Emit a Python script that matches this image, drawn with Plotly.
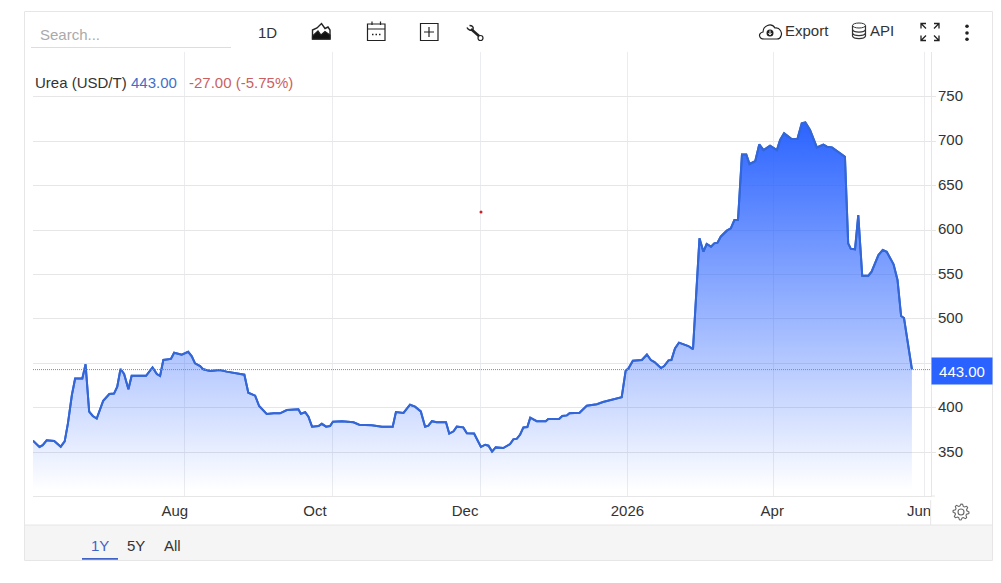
import math
import re

import plotly.graph_objects as go

# trading sessions since the start of the 1Y window, and the price at each one
session = [0, 1.8, 2.7, 3.8, 5.9, 7.7, 8.8, 9.7, 10.8, 11.7, 13.7, 14.6, 15.6, 16.6, 17.7, 19.5, 21.2, 22.5, 23.4, 24.3,
           25.3, 26.5, 27.4, 31.4, 33.2, 34.4, 35.3, 36.2, 38.3, 39.2, 41.3, 43.1, 44.1, 45, 46.4, 47.3, 49.2, 51, 51.9, 53.8,
           56.6, 58.7, 59.8, 61.7, 62.8, 64.9, 66.8, 68.6, 70.5, 73.7, 74.4, 75.6, 76.5, 77.5, 79.3, 80.2, 81.4, 82.5, 83.3, 85.8,
           89, 90.6, 94.1, 96.9, 99.9, 100.8, 102.9, 104.7, 106.1, 107.7, 108.9, 109.8, 110.8, 112.1, 114.7, 115.6, 116.8, 117.7, 119.5, 120.5,
           122.5, 124.4, 125.6, 126.5, 127.5, 128.5, 130.6, 132.5, 133.4, 134.4, 135.3, 136.2, 137.3, 138.1, 139.9, 142.4, 143.1, 146.1, 147, 148.3,
           149, 151.8, 153.8, 156.6, 158.3, 160.8, 163.5, 164.6, 165.4, 166.6, 169.1, 170.5, 171.6, 172.6, 174.4, 175.3, 176.5, 177.3, 178.3, 179.4,
           182, 183.3, 185.1, 186.2, 187.1, 188.3, 189.2, 190.1, 191, 192.7, 193.8, 194.8, 195.8, 196.9, 198.1, 199, 200.6, 201.7, 202.9, 204.7,
           206.6, 207.5, 208.6, 210.7, 212.3, 213.5, 214.5, 215.8, 217.7, 219.5, 220.5, 221.9, 223.3, 225.5, 226.4, 227.1, 228.3, 229.2, 230.3, 232,
           232.9, 234.8, 236, 237.1, 239, 240.1, 241.1, 241.9, 244.1]
price = [363, 356, 358, 363.5, 362.7, 356.3, 362.3, 382.5, 414.4, 433, 433, 449, 395.7, 390.8, 388, 408, 415.5, 416, 423.8, 443.7,
         438, 420.8, 436, 436, 445.5, 438, 435.8, 453.8, 455, 462, 459.8, 463, 458, 450, 447, 443.3, 441.4, 441.8, 442.5, 440.7,
         438.8, 437.3, 417, 413.7, 402, 393, 393.8, 393.8, 397.5, 398.3, 393.4, 395, 390, 378.8, 379.5, 382, 378.8, 379.5, 384.4, 384.8,
         383.7, 381, 380.3, 378.8, 378.8, 395.3, 394.2, 403.5, 401.3, 396, 378.8, 380, 385, 383.7, 383.7, 371, 373.6, 378.8, 378, 371.3,
         371, 356, 358.5, 357.4, 350.7, 355.5, 354.8, 359.3, 364.5, 365.3, 370, 378, 378.4, 389, 385, 384.8, 387.4, 387.4, 390.8, 391.5,
         393.8, 394.5, 402.4, 404, 406.5, 408.8, 412, 441.8, 444.5, 453, 453.8, 460, 453.8, 451.5, 444.8, 447, 453.4, 453.8, 466.9, 473.3,
         469.5, 466, 590.6, 575.6, 584.3, 581.3, 585, 585.8, 592.5, 599.3, 601.9, 611.3, 611.6, 685.1, 685.1, 674.3, 677.6, 696.4, 690, 694.9,
         690, 701.3, 708.8, 702.4, 702.4, 720, 721.1, 712.5, 693, 696, 693.8, 693, 689.3, 682.5, 585, 579, 578.3, 616.9, 548.6, 548.6,
         553.1, 571.9, 577.5, 575.6, 561.4, 543.8, 503.3, 501, 443.3]

grid_sessions = [42.1, 83.2, 124.3, 165.1, 205.6, 247.6]
label_sessions = [39.4, 78.3, 120, 165.1, 205.3, 246.1]
month_labels = ['Aug', 'Oct', 'Dec', '2026', 'Apr', 'Jun']
price_ticks = [350, 400, 450, 500, 550, 600, 650, 700, 750]

last_price = 443
last_text = '443.00'
change_text = '-27.00 (-5.75%)'

FONT = 'Liberation Sans, Arial, sans-serif'
TEXT = '#333333'
BLUE = '#2962ff'
LINE = '#3366d6'
GRID = '#e6e6e6'

# plot area in page pixels
LEFT, RIGHT, TOP, BOTTOM = 33, 931, 52, 496


def px(x):
    return (x - LEFT) / (RIGHT - LEFT)


def py(y):
    return (BOTTOM - y) / (BOTTOM - TOP)


def to_paper(d):
    """Turn an SVG path written in page pixels into paper coordinates."""
    parts = re.findall(r'[MLCZ]|-?[\d.]+', d)
    out, is_x = [], True
    for p in parts:
        if p in 'MLCZ':
            out.append(p)
        else:
            out.append(str(px(float(p)) if is_x else py(float(p))))
            is_x = not is_x
    return ' '.join(out)


def path(d, color='#222222', width=1.2, fill=None):
    return dict(type='path', xref='paper', yref='paper', path=to_paper(d),
                line=dict(color=color, width=width),
                fillcolor=fill if fill else 'rgba(0,0,0,0)', layer='above')


def box(x0, y0, x1, y1, fill=None, color=None, width=1, kind='rect', layer='above'):
    return dict(type=kind, xref='paper', yref='paper', x0=px(x0), x1=px(x1), y0=py(y0), y1=py(y1),
                fillcolor=fill if fill else 'rgba(0,0,0,0)',
                line=dict(color=color if color else 'rgba(0,0,0,0)', width=width), layer=layer)


def label(text, x, y, size=15, color=TEXT, anchor='center'):
    # annotations pad their text by 2px, take that back on left-anchored ones
    if anchor == 'left':
        x -= 2
    return dict(text=text, xref='paper', yref='paper', x=px(x), y=py(y), showarrow=False,
                xanchor=anchor, yanchor='middle', font=dict(family=FONT, size=size, color=color))


def gear(cx, cy):
    pts = []
    for i in range(32):
        r = 8 if i % 4 in (0, 1) else 6
        a = 2 * math.pi * i / 32
        pts.append(f'{cx + r * math.cos(a):.2f} {cy + r * math.sin(a):.2f}')
    return 'M' + ' L'.join(pts) + ' Z'


shapes = [
    # card and footer strip
    box(24.5, 11.5, 992.5, 560.5, fill='white', color=GRID, layer='below'),
    box(25, 525, 992, 560, fill='#f5f5f5', layer='below'),
    dict(type='line', xref='paper', yref='paper', x0=px(25), x1=px(992), y0=py(525), y1=py(525),
         line=dict(color=GRID, width=1), layer='below'),
    # search underline, axis stubs
    dict(type='line', xref='paper', yref='paper', x0=px(31), x1=px(231), y0=py(47.5), y1=py(47.5),
         line=dict(color='#dddddd', width=1)),
    dict(type='line', xref='paper', yref='paper', x0=px(931), x1=px(935), y0=0, y1=0,
         line=dict(color=GRID, width=1)),
    dict(type='line', xref='paper', yref='paper', x0=px(930.7), x1=px(930.7), y0=py(500), y1=py(525),
         line=dict(color=GRID, width=1)),
    # last price line
    dict(type='line', xref='paper', yref='y', x0=0, x1=1, y0=last_price, y1=last_price,
         line=dict(color='#6d93ad', width=1, dash='1px,1px'), layer='above'),
    # stray marker
    box(479.5, 210.5, 482.5, 213.5, fill='#cc2222', kind='circle'),
    # area icon
    path('M312.5 39 L312.5 30 L317 28 L321.5 23.5 L325 28.5 L328 27 L330 30 L330 39 Z', width=1.4),
    path('M312.5 39 L312.5 36 L318 31 L321 35 L325 31.5 L330 35 L330 39 Z', fill='#111111'),
    # calendar icon
    box(367.5, 24, 385, 40.5, color='#222222', width=1.2),
    path('M367.5 29 L385 29 M372 21.5 L372 25 M380.5 21.5 L380.5 25'),
    path('M372 34.5 L373.5 34.5 M375.5 34.5 L377 34.5 M379 34.5 L380.5 34.5', width=1.3),
    # plus box icon
    box(420.5, 23.5, 438, 40.5, color='#222222', width=1.2),
    path('M424 32 L434 32 M429 27 L429 37'),
    # wrench icon
    path('M471 29 L479.5 36.5', width=2.6),
    path('M467 27.5 C468 30 471 31 473 29.5 M469.5 25.5 C472 25.5 474 27 473 29.5', width=1.4),
    box(478, 35.5, 483, 40.5, color='#222222', width=1.2, kind='circle', fill='white'),
    # cloud icon
    path('M764 39 C759 39 757.5 33 763 32 C763 26 771 22 775 28 C780 27 782.5 33 781 36 '
         'C780.5 38 779 39 777 39 Z'),
    box(766.5, 29.5, 773.5, 36.5, fill='#222222', kind='circle'),
    path('M770 30.5 L770 34.5 M768.5 33 L770 35 L771.5 33', color='white', width=1),
    # database icon
    box(852.5, 23, 865.5, 28, color='#333333', kind='circle'),
    path('M852.5 25.5 L852.5 36 C853.5 39.5 864.5 39.5 865.5 36 L865.5 25.5 '
         'M852.5 29.5 C853.5 33 864.5 33 865.5 29.5 M852.5 33 C853.5 36.5 864.5 36.5 865.5 33',
         color='#333333'),
    # fullscreen icon
    path('M921 28.5 L921 23.5 L926 23.5 M921.5 24 L926 28.5', width=1.3),
    path('M934 23.5 L939 23.5 L939 28.5 M938.5 24 L934 28.5', width=1.3),
    path('M921 35.5 L921 40.5 L926 40.5 M921.5 40 L926 35.5', width=1.3),
    path('M934 40.5 L939 40.5 L939 35.5 M938.5 40 L934 35.5', width=1.3),
    # more menu
    box(965.2, 24.5, 968.8, 28, fill='#222222', kind='circle'),
    box(965.2, 31.3, 968.8, 34.8, fill='#222222', kind='circle'),
    box(965.2, 37.5, 968.8, 41, fill='#222222', kind='circle'),
    # settings gear
    path(gear(961, 512), color='#666666', width=1.1),
    box(958, 509, 964, 515, color='#666666', width=1.1, kind='circle'),
    # 1Y underline
    box(82, 558, 118, 559.8, fill='#3f63c9'),
]

annotations = [
    label('Search...', 40, 34.5, 15, '#aaaaaa', 'left'),
    label('1D', 267, 32),
    label('Export', 785, 31, anchor='left'),
    label('API', 870, 31, anchor='left'),
    label('Urea (USD/T)', 35, 83, anchor='left'),
    label(last_text, 131, 83, 15, '#3f6fca', 'left'),
    label(change_text, 189, 83, 15, '#cc5f5f', 'left'),
    label('1Y', 100, 545.5, 15, '#3f63c9'),
    label('5Y', 136, 545.5),
    label('All', 172, 545.5),
    dict(text=last_text, xref='paper', yref='paper', x=px(931), y=py(371.5), showarrow=False,
         xanchor='left', yanchor='middle', width=58, height=24, bgcolor=BLUE,
         font=dict(family=FONT, size=15, color='white')),
]

fig = go.Figure()

fig.add_trace(go.Scatter(x=session, y=price, mode='lines', line=dict(color=LINE, width=2),
                         fill='tozeroy',
                         fillgradient=dict(type='vertical', start=725, stop=307,
                                           colorscale=[[0, 'rgba(41,98,255,1)'], [1, 'rgba(41,98,255,0)']]),
                         xaxis='x', yaxis='y', showlegend=False, hoverinfo='skip'))
# second pass of the line carries the month labels, which sit off the gridlines
fig.add_trace(go.Scatter(x=session, y=price, mode='lines', line=dict(color=LINE, width=2),
                         xaxis='x2', yaxis='y', showlegend=False))

x_range = [0, 249.4]
y_range = [300.8, 800.3]

fig.update_layout(
    width=1001, height=583, autosize=False,
    margin=dict(l=LEFT, r=1001 - RIGHT, t=TOP, b=583 - BOTTOM, pad=0),
    paper_bgcolor='white', plot_bgcolor='white',
    font=dict(family=FONT, size=15, color=TEXT),
    shapes=shapes, annotations=annotations,
    xaxis=dict(range=x_range, tickmode='array', tickvals=grid_sessions, showticklabels=False,
               showgrid=True, gridcolor='#eaecef', gridwidth=1, zeroline=False,
               showline=True, linecolor=GRID, ticks=''),
    xaxis2=dict(range=x_range, overlaying='x', side='bottom', anchor='y', tickmode='array',
                tickvals=label_sessions, ticktext=month_labels, showgrid=False, zeroline=False,
                ticks='outside', ticklen=1, tickcolor='rgba(0,0,0,0)',
                tickfont=dict(family=FONT, size=15, color=TEXT), showline=False),
    yaxis=dict(range=y_range, side='right', tickmode='array', tickvals=price_ticks,
               showgrid=True, gridcolor=GRID, zeroline=False, showline=True, linecolor=GRID,
               ticks='outside', ticklen=4, tickcolor=GRID, ticklabelstandoff=-1, ticklabelshift=-1,
               tickfont=dict(family=FONT, size=15, color=TEXT)),
    showlegend=False,
)

fig.write_html('out.html', config=dict(displayModeBar=False),
               post_script="document.body.style.margin='0';document.body.style.overflow='hidden';")
